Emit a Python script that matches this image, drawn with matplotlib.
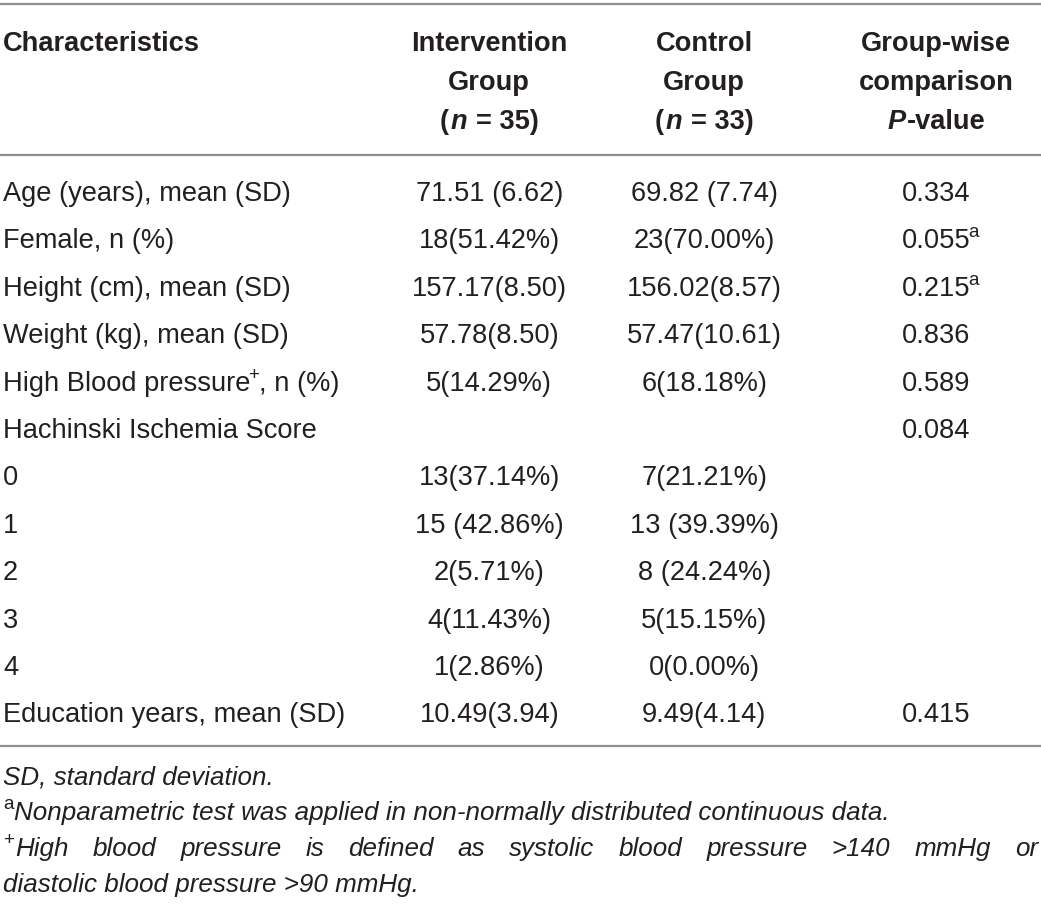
import matplotlib.pyplot as plt

plt.rcParams['font.family'] = ['Liberation Sans', 'DejaVu Sans']

# table content ("^x^" marks a superscript run)
row_labels = ["Age (years), mean (SD)", "Female, n (%)", "Height (cm), mean (SD)",
              "Weight (kg), mean (SD)", "High Blood pressure^+^, n (%)",
              "Hachinski Ischemia Score", "0", "1", "2", "3", "4",
              "Education years, mean (SD)"]
intervention = ["71.51 (6.62)", "18(51.42%)", "157.17(8.50)", "57.78(8.50)", "5(14.29%)", "",
                "13(37.14%)", "15 (42.86%)", "2(5.71%)", "4(11.43%)", "1(2.86%)", "10.49(3.94)"]
control = ["69.82 (7.74)", "23(70.00%)", "156.02(8.57)", "57.47(10.61)", "6(18.18%)", "",
           "7(21.21%)", "13 (39.39%)", "8 (24.24%)", "5(15.15%)", "0(0.00%)", "9.49(4.14)"]
p_values = ["0.334", "0.055^a", "0.215^a", "0.836", "0.589", "0.084",
            "", "", "", "", "", "0.415"]
footnotes = ["SD, standard deviation.",
             "^a^Nonparametric test was applied in non-normally distributed continuous data.",
             "^+^High blood pressure is defined as systolic blood pressure >140 mmHg or",
             "diastolic blood pressure >90 mmHg."]

W, H = 1041, 908
TXT = '#231f20'
LINE = '#8f8f8f'
FS = 19.6
FS_NOTE = 18.7
SUP = 13.5

fig = plt.figure(figsize=(W / 100, H / 100), dpi=100)
ax = fig.add_axes([0, 0, 1, 1])
ax.set_xlim(0, W)
ax.set_ylim(H, 0)
ax.axis('off')
r = fig.canvas.get_renderer()


def text_w(t):
    return t.get_window_extent(r).width


def draw_runs(x, y, parts, ha='left', fs=FS, center_on=None):
    # parts: (string, weight, style, is_sup); leading spaces become gaps
    arts, widths, gaps = [], [], []
    for k, (s, weight, style, sup) in enumerate(parts):
        gap = 0.0
        if s.startswith(' '):
            gap = 0.27 * fs * 100 / 72
            s = s.lstrip()
        if sup and k > 0:
            gap = -3.5
        t = ax.text(0, y - (11 if sup else 0), s, fontsize=SUP if sup else fs,
                    fontweight=weight, fontstyle=style, color=TXT,
                    va='baseline', ha='left')
        arts.append(t)
        widths.append(text_w(t) + (0.0 if sup else 1.5))
        gaps.append(gap)
    n = len(arts) if center_on is None else center_on
    total = sum(widths[:n]) + sum(gaps[:n])
    x0 = x - total / 2 if ha == 'center' else x
    for t, w, g in zip(arts, widths, gaps):
        x0 += g
        t.set_x(x0)
        x0 += w
    return arts


def split_sup(s, weight='normal', style='normal', sup_style='normal'):
    pieces = s.split('^')
    return [(p, weight, sup_style if i % 2 else style, i % 2 == 1)
            for i, p in enumerate(pieces) if p]


col_x = [490, 705, 937]
x_left = 3

# rules
for y in [4, 155, 746]:
    ax.plot([0, W], [y, y], color=LINE, lw=1.6, solid_capstyle='butt')

# header
hb = [51, 90, 129]
draw_runs(x_left, hb[0], [("Characteristics", 'bold', 'normal', False)])
headers = [
    [[("Intervention", 'bold', 'normal', False)], [("Group", 'bold', 'normal', False)],
     [("(", 'bold', 'normal', False), ("n", 'bold', 'italic', False), (" = 35)", 'bold', 'normal', False)]],
    [[("Control", 'bold', 'normal', False)], [("Group", 'bold', 'normal', False)],
     [("(", 'bold', 'normal', False), ("n", 'bold', 'italic', False), (" = 33)", 'bold', 'normal', False)]],
    [[("Group-wise", 'bold', 'normal', False)], [("comparison", 'bold', 'normal', False)],
     [("P", 'bold', 'italic', False), ("-value", 'bold', 'normal', False)]],
]
for cx, lines in zip(col_x, headers):
    for yb, parts in zip(hb, lines):
        draw_runs(cx, yb, parts, ha='center')

# body rows
row_top, row_step = 201, 47.4
for i, lab in enumerate(row_labels):
    yb = row_top + i * row_step
    draw_runs(x_left, yb, split_sup(lab))
    for cx, col in zip(col_x, [intervention, control, p_values]):
        if col[i]:
            draw_runs(cx, yb, split_sup(col[i]), ha='center', center_on=1)

# footnotes
fb = [784, 820, 856, 892]
draw_runs(x_left, fb[0], split_sup(footnotes[0], style='italic'), fs=FS_NOTE)
draw_runs(x_left, fb[1], split_sup(footnotes[1], style='italic'), fs=FS_NOTE)
# justified line
sup_part = draw_runs(x_left, fb[2], [("+", 'normal', 'normal', True)], fs=FS_NOTE)
start = x_left + text_w(sup_part[0]) + 1
words = footnotes[2].split('^')[-1].split()
warts = [ax.text(0, fb[2], w, fontsize=FS_NOTE, fontstyle='italic', color=TXT,
                 va='baseline', ha='left') for w in words]
ww = [text_w(t) for t in warts]
gap = (W - 3 - start - sum(ww)) / (len(words) - 1)
xx = start
for t, w in zip(warts, ww):
    t.set_x(xx)
    xx += w + gap
draw_runs(x_left, fb[3], split_sup(footnotes[3], style='italic'), fs=FS_NOTE)

fig.savefig('out.png', dpi=100)
